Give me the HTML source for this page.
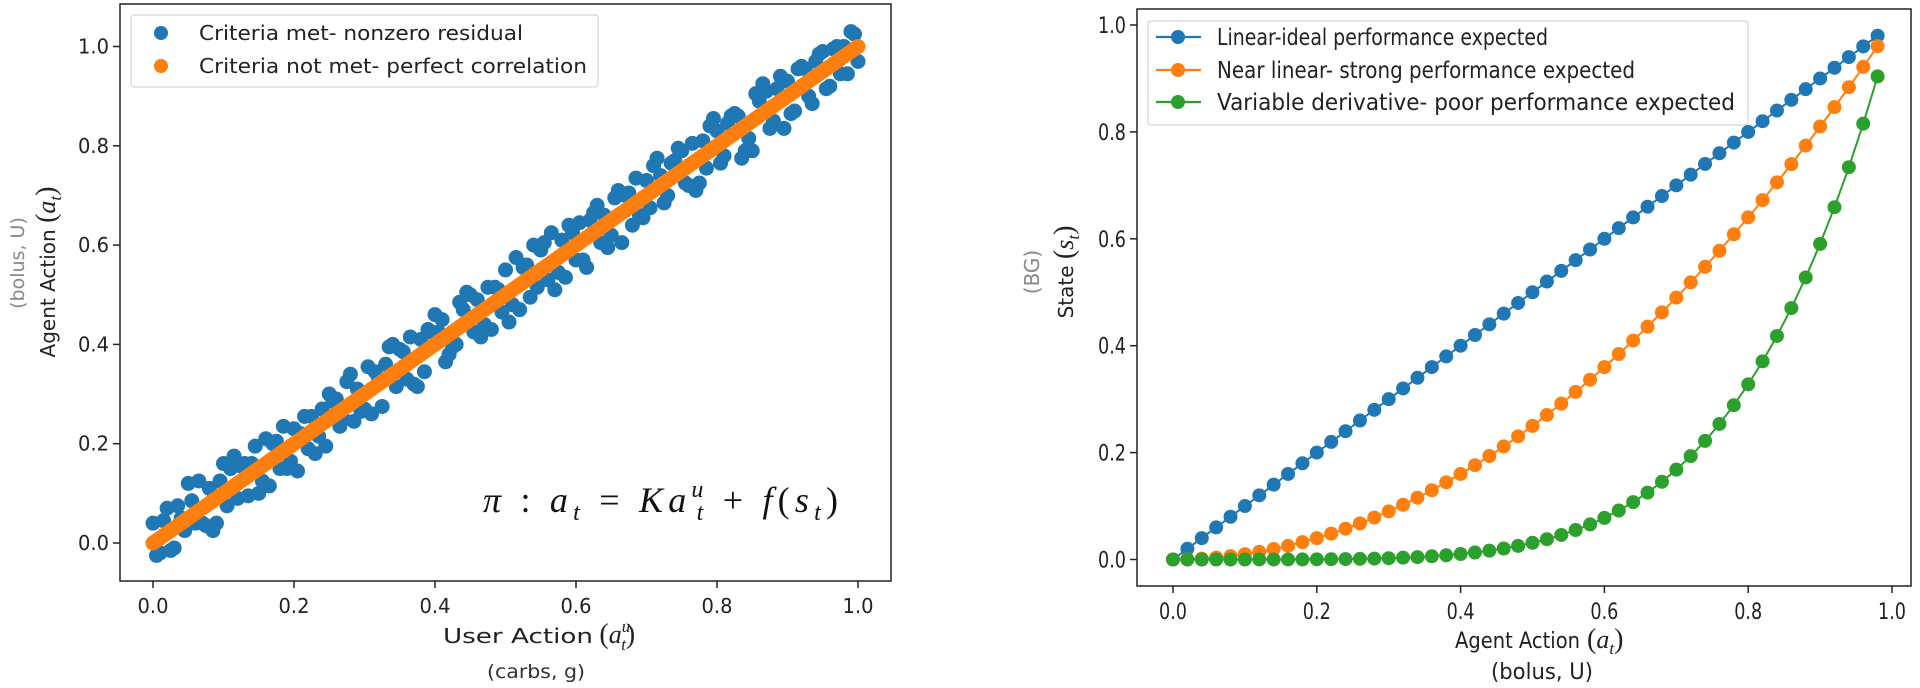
<!DOCTYPE html>
<html><head><meta charset="utf-8">
<style>
html,body{margin:0;padding:0;background:#fff;}
svg{display:block;font-family:"DejaVu Sans","Liberation Sans",sans-serif;}
</style></head>
<body>
<svg id="fig" width="1920" height="688" viewBox="0 0 1920 688" xmlns="http://www.w3.org/2000/svg">
  <g id="left"></g>
  <g id="right"></g>
</svg>
<script>
// ---- Left chart data ----
const leftXTicks = [0, 0.2, 0.4, 0.6, 0.8, 1.0];
const leftYTicks = [0, 0.2, 0.4, 0.6, 0.8, 1.0];
const leftTickLabels = ["0.0", "0.2", "0.4", "0.6", "0.8", "1.0"];
const blueResidA = [0.04,-0.03,0.05,-0.04,0.01,0.07,-0.02,-0.03,0.03,-0.05,0.06,0.04,-0.03,0.03,0.02,-0.05,0.05,0.03,-0.03,-0.04,0.03,0.01,-0.03,-0.05,0.03,0.05,0.03,-0.02,0.06,0.02,-0.03,-0.05,0.01,0.03,0.06,0.04,-0.03,-0.05,0.03,0.04,0.06,0.04,-0.04,-0.03,0.03,0.05,0.03,-0.03,-0.05,0.02,0.05,-0.03,-0.05,0.03,0.06,0.04,-0.03,-0.06,0.03,0.05,-0.03,-0.04,0.03,0.05,0.02,-0.03,0.05,0.03,-0.04,-0.03,0.03,0.05,0.02,-0.03,0.03,0.04,-0.04,-0.06,0.03,0.05,0.03,-0.03,0.04,0.03,-0.05,-0.06,0.03,0.04,-0.03,0.05,0.03,-0.04,0.04,-0.03,0.03,0.04,-0.04,0.03,0.02,0.04,-0.03];
const blueResidB = [-0.03,0.03,-0.04,0.04,-0.02,0.03,0.06,-0.04,-0.06,0.03,-0.03,0.06,0.03,-0.04,0.05,-0.03,-0.05,0.03,0.05,-0.03,-0.06,0.04,0.03,-0.02,-0.05,0.03,-0.03,0.05,-0.04,-0.03,0.05,0.03,-0.05,0.06,-0.03,0.03,0.05,-0.06,-0.04,0.03,0.02,-0.05,-0.03,0.05,0.06,-0.03,-0.05,0.04,0.03,-0.03,-0.06,0.06,0.03,-0.04,-0.03,0.05,0.06,-0.03,-0.05,0.03,0.04,-0.06,0.04,-0.03,-0.05,0.04,-0.06,0.03,0.05,-0.04,-0.03,0.06,-0.04,0.03,0.05,-0.03,0.04,-0.05,-0.03,0.06,-0.04,0.03,0.04,-0.06,-0.03,0.05,0.06,-0.04,0.03,-0.06,-0.04,0.04,0.03,-0.05,0.04,-0.04,0.03,-0.03,-0.04,0.03];

// ---- Right chart data ----
const rightXTicks = [0, 0.2, 0.4, 0.6, 0.8, 1.0];
const rightYTicks = [0, 0.2, 0.4, 0.6, 0.8, 1.0];
const rightTickLabels = ["0.0", "0.2", "0.4", "0.6", "0.8", "1.0"];
const rightX = [0,.02,.04,.06,.08,.10,.12,.14,.16,.18,.20,.22,.24,.26,.28,.30,.32,.34,.36,.38,.40,.42,.44,.46,.48,.50,.52,.54,.56,.58,.60,.62,.64,.66,.68,.70,.72,.74,.76,.78,.80,.82,.84,.86,.88,.90,.92,.94,.96,.98];
const linearVals = [0,.02,.04,.06,.08,.10,.12,.14,.16,.18,.20,.22,.24,.26,.28,.30,.32,.34,.36,.38,.40,.42,.44,.46,.48,.50,.52,.54,.56,.58,.60,.62,.64,.66,.68,.70,.72,.74,.76,.78,.80,.82,.84,.86,.88,.90,.92,.94,.96,.98];
const nearLinearVals = [0,.0004,.0016,.0036,.0064,.01,.0144,.0196,.0256,.0324,.04,.0484,.0576,.0676,.0784,.09,.1024,.1156,.1296,.1444,.16,.1764,.1936,.2116,.2304,.25,.2704,.2916,.3136,.3364,.36,.3844,.4096,.4356,.4624,.49,.5184,.5476,.5776,.6084,.64,.6724,.7056,.7396,.7744,.81,.8464,.8836,.9216,.9604];
const variableVals = [0,0,0,0,0,.00001,.00003,.00005,.0001,.0002,.0003,.0005,.0008,.0012,.0017,.0024,.0034,.0045,.006,.0079,.0102,.0131,.0165,.0206,.0255,.0313,.038,.0459,.0551,.0656,.0778,.0916,.1074,.1252,.1454,.1681,.1935,.2219,.2536,.2887,.3277,.3707,.4182,.4704,.5277,.5905,.6591,.7339,.8154,.9039];

const NS = "http://www.w3.org/2000/svg";
function mk(tag, attrs, parent, txt){
  const e = document.createElementNS(NS, tag);
  for (const k in attrs) e.setAttribute(k, attrs[k]);
  if (txt !== undefined) e.textContent = txt;
  parent.appendChild(e);
  return e;
}
const SER = '"Liberation Serif",serif';

// ===== LEFT =====
(function(){
  const g = document.getElementById('left');
  const L=120, R=891, T=4, B=581;
  const x0=153, x1=858, y0=543, y1=46.5;
  const sx = v => x0 + v*(x1-x0);
  const sy = v => y0 + v*(y1-y0);
  const bg = mk('g', {}, g);
  
  
  blueResidA.forEach((r,i)=>{
    const x=i/100;
    const c = mk('circle',{cx:sx(x),cy:sy(x+r),r:7.5,fill:'#1f77b4'},bg);
    
    
  });
  blueResidB.forEach((r,i)=>{
    const x=i/100+0.005;
    const c = mk('circle',{cx:sx(x),cy:sy(x+r),r:7.5,fill:'#1f77b4'},bg);
    
    
  });
  const og = mk('g', {}, g);
  
  
  for (let i=0;i<=200;i++){
    const x=i/200;
    const c = mk('circle',{cx:sx(x),cy:sy(x),r:7.5,fill:'#ff7f0e'},og);
    
    
  }
  const fr = mk('rect',{x:L,y:T,width:R-L,height:B-T,fill:'none',stroke:'#222','stroke-width':1.5},g);
  
  
  leftXTicks.forEach((v,i)=>{
    mk('line',{x1:sx(v),x2:sx(v),y1:B,y2:B+7,stroke:'#222','stroke-width':1.5},g);
    const t = mk('text',{x:sx(v),y:613,'font-size':20,'text-anchor':'middle',fill:'#222',textLength:31,lengthAdjust:'spacingAndGlyphs'},g,leftTickLabels[i]);
    
    
  });
  leftYTicks.forEach((v,i)=>{
    mk('line',{x1:L,x2:L-7,y1:sy(v),y2:sy(v),stroke:'#222','stroke-width':1.5},g);
    const t = mk('text',{x:L-11,y:sy(v)+7,'font-size':20,'text-anchor':'end',fill:'#222',textLength:31,lengthAdjust:'spacingAndGlyphs'},g,leftTickLabels[i]);
    
    
  });
  const lg = mk('g',{},g);
  
  
  mk('rect',{x:131,y:15,width:467,height:72,rx:3,fill:'#fff','fill-opacity':0.8,stroke:'#ccc','stroke-width':1},lg);
  mk('circle',{cx:161,cy:33,r:7,fill:'#1f77b4'},lg);
  mk('text',{x:199,y:40,'font-size':20,fill:'#222',textLength:324,lengthAdjust:'spacingAndGlyphs'},lg,'Criteria met- nonzero residual');
  mk('circle',{cx:161,cy:66,r:7,fill:'#ff7f0e'},lg);
  mk('text',{x:199,y:73,'font-size':20,fill:'#222',textLength:388,lengthAdjust:'spacingAndGlyphs'},lg,'Criteria not met- perfect correlation');
  const eq = mk('text',{x:483,y:512,'font-size':36,'font-family':SER,fill:'#111','font-style':'italic',textLength:355,lengthAdjust:'spacing'},g);
  
  
  eq.innerHTML = 'π <tspan font-style="normal">:</tspan> a<tspan font-size="24" dy="8">t</tspan><tspan dy="-8" font-style="normal"> = </tspan>Ka<tspan font-size="24" dy="-15">u</tspan><tspan font-size="24" dx="-12" dy="23">t</tspan><tspan dy="-8" font-style="normal"> + </tspan>f<tspan font-style="normal">(</tspan>s<tspan font-size="24" dy="8">t</tspan><tspan dy="-8" font-style="normal">)</tspan>';
  const xl = mk('text',{x:443,y:643,'font-size':20,fill:'#222'},g);
  
  
  xl.innerHTML = '<tspan textLength="150" lengthAdjust="spacingAndGlyphs">User Action</tspan> <tspan font-family=\'"Liberation Serif",serif\' font-size="28">(</tspan><tspan font-family=\'"Liberation Serif",serif\' font-style="italic" font-size="26">a</tspan><tspan font-family=\'"Liberation Serif",serif\' font-style="italic" font-size="17" dy="-11">u</tspan><tspan font-family=\'"Liberation Serif",serif\' font-style="italic" font-size="17" dx="-9" dy="18">t</tspan><tspan font-family=\'"Liberation Serif",serif\' font-size="28" dy="-7">)</tspan>';
  const xl2 = mk('text',{x:536,y:678,'font-size':19,'text-anchor':'middle',fill:'#333',textLength:98,lengthAdjust:'spacingAndGlyphs'},g,'(carbs, g)');
  
  
  const yl = mk('text',{x:0,y:0,'font-size':20,'text-anchor':'middle',fill:'#222',transform:'translate(55,272) rotate(-90)'},g);
  
  
  yl.innerHTML = 'Agent Action <tspan font-family=\'"Liberation Serif",serif\' font-size="28">(</tspan><tspan font-family=\'"Liberation Serif",serif\' font-style="italic" font-size="26">a</tspan><tspan font-family=\'"Liberation Serif",serif\' font-style="italic" font-size="17" dy="6">t</tspan><tspan font-family=\'"Liberation Serif",serif\' font-size="28" dy="-6">)</tspan>';
  const yl2 = mk('text',{x:0,y:0,'font-size':19,'text-anchor':'middle',fill:'#888',transform:'translate(24,263) rotate(-90)'},g,'(bolus, U)');
  
  
})();

// ===== RIGHT =====
(function(){
  const g = document.getElementById('right');
  const L=1137, R=1911, T=9, B=586;
  const x0=1173, x1=1892, y0=559.5, y1=25;
  const sx = v => x0 + v*(x1-x0);
  const sy = v => y0 + v*(y1-y0);
  const series = [
    {vals: linearVals, color:'#1f77b4', name:'linear-ideal-series'},
    {vals: nearLinearVals, color:'#ff7f0e', name:'near-linear-series'},
    {vals: variableVals, color:'#2ca02c', name:'variable-derivative-series'}
  ];
  series.forEach(s=>{
    const sg = mk('g',{},g);
    
    
    const d = rightX.map((x,i)=>(i?'L':'M')+sx(x).toFixed(1)+' '+sy(s.vals[i]).toFixed(1)).join(' ');
    const p = mk('path',{d:d,fill:'none',stroke:s.color,'stroke-width':2},sg);
    
    
    rightX.forEach((x,i)=>{
      const c = mk('circle',{cx:sx(x),cy:sy(s.vals[i]),r:7,fill:s.color},sg);
      
      
    });
  });
  const fr = mk('rect',{x:L,y:T,width:R-L,height:B-T,fill:'none',stroke:'#222','stroke-width':1.5},g);
  
  
  rightXTicks.forEach((v,i)=>{
    mk('line',{x1:sx(v),x2:sx(v),y1:B,y2:B+7,stroke:'#222','stroke-width':1.5},g);
    const t = mk('text',{x:sx(v),y:B+33,'font-size':22,'text-anchor':'middle',fill:'#222',textLength:28,lengthAdjust:'spacingAndGlyphs'},g,rightTickLabels[i]);
    
    
  });
  rightYTicks.forEach((v,i)=>{
    mk('line',{x1:L,x2:L-7,y1:sy(v),y2:sy(v),stroke:'#222','stroke-width':1.5},g);
    const t = mk('text',{x:L-11,y:sy(v)+8,'font-size':22,'text-anchor':'end',fill:'#222',textLength:28,lengthAdjust:'spacingAndGlyphs'},g,rightTickLabels[i]);
    
    
  });
  const lg = mk('g',{},g);
  
  
  mk('rect',{x:1148,y:21,width:600,height:104,rx:3,fill:'#fff','fill-opacity':0.8,stroke:'#ccc','stroke-width':1},lg);
  const entries = [['Linear-ideal performance expected','#1f77b4',37,331],['Near linear- strong performance expected','#ff7f0e',70,418],['Variable derivative- poor performance expected','#2ca02c',102,518]];
  entries.forEach(e=>{
    mk('line',{x1:1156,x2:1201,y1:e[2],y2:e[2],stroke:e[1],'stroke-width':2.2},lg);
    mk('circle',{cx:1178,cy:e[2],r:7,fill:e[1]},lg);
    mk('text',{x:1217,y:e[2]+8,'font-size':23,fill:'#222',textLength:e[3],lengthAdjust:'spacingAndGlyphs'},lg,e[0]);
  });
  const xl = mk('text',{x:1455,y:648,'font-size':22,fill:'#222'},g);
  
  
  xl.innerHTML = '<tspan textLength="125" lengthAdjust="spacingAndGlyphs">Agent Action</tspan> <tspan font-family=\'"Liberation Serif",serif\' font-size="28">(</tspan><tspan font-family=\'"Liberation Serif",serif\' font-style="italic" font-size="26">a</tspan><tspan font-family=\'"Liberation Serif",serif\' font-style="italic" font-size="17" dy="6">t</tspan><tspan font-family=\'"Liberation Serif",serif\' font-size="28" dy="-6">)</tspan>';
  const xl2 = mk('text',{x:1542,y:679,'font-size':22,'text-anchor':'middle',fill:'#222',textLength:102,lengthAdjust:'spacingAndGlyphs'},g,'(bolus, U)');
  
  
  const yl = mk('text',{x:0,y:0,'font-size':20,'text-anchor':'middle',fill:'#222',transform:'translate(1073,272) rotate(-90)'},g);
  
  
  yl.innerHTML = 'State <tspan font-family=\'"Liberation Serif",serif\' font-size="28">(</tspan><tspan font-family=\'"Liberation Serif",serif\' font-style="italic" font-size="26">s</tspan><tspan font-family=\'"Liberation Serif",serif\' font-style="italic" font-size="17" dy="6">t</tspan><tspan font-family=\'"Liberation Serif",serif\' font-size="28" dy="-6">)</tspan>';
  const yl2 = mk('text',{x:0,y:0,'font-size':20,'text-anchor':'middle',fill:'#888',transform:'translate(1039,272) rotate(-90)'},g,'(BG)');
  
  
})();
</script>
</body></html>
